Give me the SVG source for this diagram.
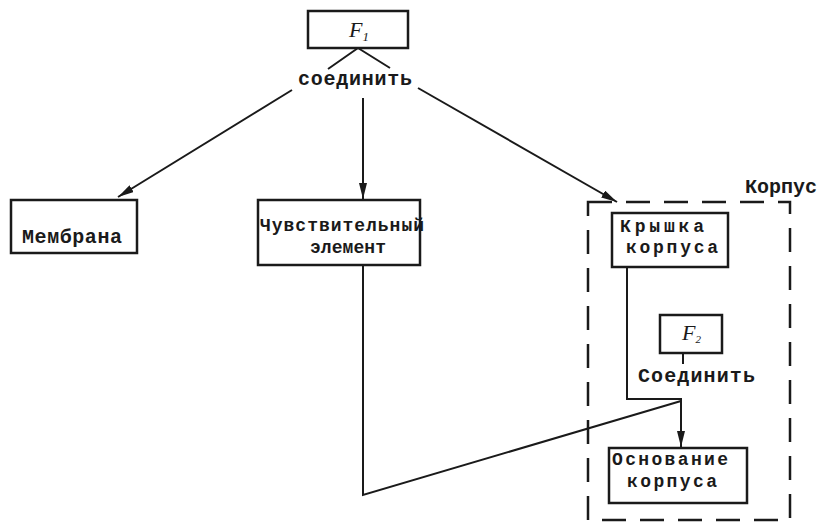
<svg xmlns="http://www.w3.org/2000/svg" width="825" height="525" viewBox="0 0 825 525">
<defs>
<style>
.box{fill:#fff;stroke:#1a1a1a;stroke-width:2.5}
.ln{fill:none;stroke:#1a1a1a;stroke-width:2}
.t{font-family:"Liberation Mono","DejaVu Sans Mono",monospace;font-weight:bold;font-size:20px;fill:#1a1a1a}
.s{font-size:18px}
.f{font-family:"Liberation Serif",serif;font-style:italic;font-size:22px;fill:#1a1a1a}
</style>
<marker id="ah" viewBox="0 0 16 8" refX="16" refY="4" markerWidth="16" markerHeight="8" markerUnits="userSpaceOnUse" orient="auto">
<path d="M0,0 L16,4 L0,8 Z" fill="#1a1a1a"/>
</marker>
</defs>
<rect width="825" height="525" fill="#fff"/>
<g id="connectors">
<path class="ln" d="M358,48 L328,69 M358,48 L390,68"/>
<path class="ln" d="M292,90 L118,197" marker-end="url(#ah)"/>
<path class="ln" d="M363,98 L363,199" marker-end="url(#ah)"/>
<path class="ln" d="M418,88 L617,202" marker-end="url(#ah)"/>
<path class="ln" d="M363,265 L363,495 L681,401"/>
<path class="ln" d="M627,267 L627,399 L681,399 L681,447" marker-end="url(#ah)"/>
<path class="ln" d="M683,353 L683,364"/>
</g>
<g id="korpus">
<rect x="588" y="202" width="202" height="318" fill="none" stroke="#1a1a1a" stroke-width="2.5" stroke-dasharray="24,14"/>
<text class="t" x="745" y="193" textLength="72">Корпус</text>
</g>
<g id="f1">
<rect class="box" x="308" y="11" width="100" height="37"/>
<text class="f" x="349" y="37">F<tspan font-size="13" dy="4">1</tspan></text>
</g>
<g id="join1">
<text class="t" x="298" y="85" textLength="114">соединить</text>
</g>
<g id="membrana">
<rect class="box" x="11" y="200" width="126" height="53"/>
<text class="t" x="22" y="243" textLength="100">Мембрана</text>
</g>
<g id="sensor">
<rect class="box" x="258" y="200" width="162" height="65"/>
<text class="t s" x="260" y="231" textLength="164">Чувствительный</text>
<text class="t s" x="310" y="253" textLength="76">элемент</text>
</g>
<g id="kryshka">
<rect class="box" x="612" y="213" width="116" height="54"/>
<text class="t s" x="620" y="232" textLength="84">Крышка</text>
<text class="t s" x="626" y="253" textLength="92">корпуса</text>
</g>
<g id="f2">
<rect class="box" x="660" y="315" width="62" height="38"/>
<text class="f" x="682" y="340" font-size="18">F<tspan font-size="11" dy="3">2</tspan></text>
</g>
<g id="join2">
<text class="t" x="638" y="382" textLength="117">Соединить</text>
</g>
<g id="osnovanie">
<rect class="box" x="609" y="448" width="138" height="55"/>
<text class="t s" x="612" y="465" textLength="116">Основание</text>
<text class="t s" x="627" y="487" textLength="90">корпуса</text>
</g>
</svg>
